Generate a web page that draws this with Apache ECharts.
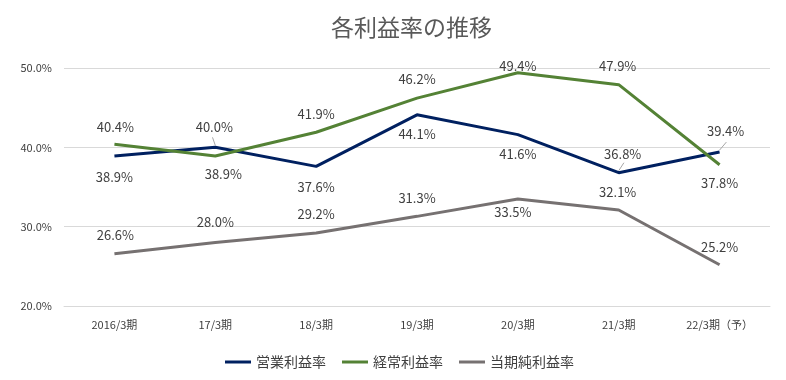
<!DOCTYPE html>
<html><head><meta charset="utf-8">
<script src="https://cdn.jsdelivr.net/npm/echarts@6/dist/echarts.min.js"></script>
<style>html,body{margin:0;padding:0;background:#fff}#c{width:786px;height:380px}</style>
</head><body><div id="c"></div>
<script>
const categories = ['2016/3期','17/3期','18/3期','19/3期','20/3期','21/3期','22/3期（予）'];
const opMargin = [38.9, 40.0, 37.6, 44.1, 41.6, 36.8, 39.4];
const ordMargin = [40.4, 38.9, 41.9, 46.2, 49.4, 47.9, 37.8];
const netMargin = [26.6, 28.0, 29.2, 31.3, 33.5, 32.1, 25.2];
const seriesNames = ['営業利益率','経常利益率','当期純利益率'];

// label layout (pixel offsets of each data label from its point)
const layout = {
  op:  [[0,21],[-1,-20],[0,21],[0,19],[0,19],[4,-19],[6,-21]],
  ord: [[1,-17],[8,18],[0,-18],[0,-19],[0,-7],[-1,-19],[0,18]],
  net: [[1,-19],[0,-20],[0,-19],[0,-18],[-5,13],[-1,-18],[0,-18]]
};
const leaders = {op: [1,5,6], ord: [], net: []};
const colors = ['#002060','#548235','#767171'];

const font = '"Noto Sans CJK JP", "Noto Sans", sans-serif';
function mk(name, vals, offs, color) {
  return {
    name: name, type: 'line', symbol: 'circle', symbolSize: 0, showSymbol: true, smooth: false,
    lineStyle: {width: 3, color: color}, itemStyle: {color: color},
    data: vals.map((v, i) => ({
      value: v,
      label: {show: true, position: 'inside', offset: offs[i],
        formatter: p => p.value.toFixed(1) + '%', color: '#404040', fontSize: 13, fontFamily: font}
    }))
  };
}
const chart = echarts.init(document.getElementById('c'));
const opt = {
  animation: false,
  title: {text: '各利益率の推移', left: 326, top: 11,
    textStyle: {fontSize: 23, fontWeight: 'normal', color: '#595959', fontFamily: font}},
  grid: {left: 64, right: 16, top: 68, bottom: 74},
  legend: {top: 350, left: 220, itemWidth: 26, itemHeight: 3, itemGap: 16, icon: 'rect',
    textStyle: {fontSize: 14, color: '#404040', fontFamily: font},
    data: seriesNames},
  xAxis: {type: 'category', data: categories, boundaryGap: true,
    axisLine: {show: true, lineStyle: {color: '#d9d9d9'}}, axisTick: {show: false},
    axisLabel: {color: '#404040', fontSize: 11, margin: 13, fontFamily: font}},
  yAxis: {type: 'value', min: 20, max: 50, interval: 10,
    axisLine: {show: false}, axisTick: {show: false},
    splitLine: {lineStyle: {color: '#d9d9d9'}},
    axisLabel: {color: '#404040', fontSize: 11, margin: 12, fontFamily: font,
      formatter: v => v.toFixed(1) + '%'}},
  series: [
    mk(seriesNames[0], opMargin, layout.op, colors[0]),
    mk(seriesNames[1], ordMargin, layout.ord, colors[1]),
    mk(seriesNames[2], netMargin, layout.net, colors[2])
  ]
};
chart.setOption(opt);

// small leader lines from points toward their moved labels
const g = [];
[[opMargin, layout.op, leaders.op]].forEach(([vals, offs, idx]) => {
  idx.forEach(i => {
    const p = chart.convertToPixel({xAxisIndex: 0, yAxisIndex: 0}, [i, vals[i]]);
    const o = offs[i];
    const dy = o[1] < 0 ? -1 : 1;
    g.push({type: 'line', silent: true, z: 1,
      shape: {x1: p[0], y1: p[1] - 2, x2: p[0] + o[0] * 0.8 + (o[0] >= 0 ? 2 : -2), y2: p[1] + dy * 10},
      style: {stroke: '#a6a6a6', lineWidth: 1}});
  });
});
chart.setOption({graphic: g});
</script></body></html>
